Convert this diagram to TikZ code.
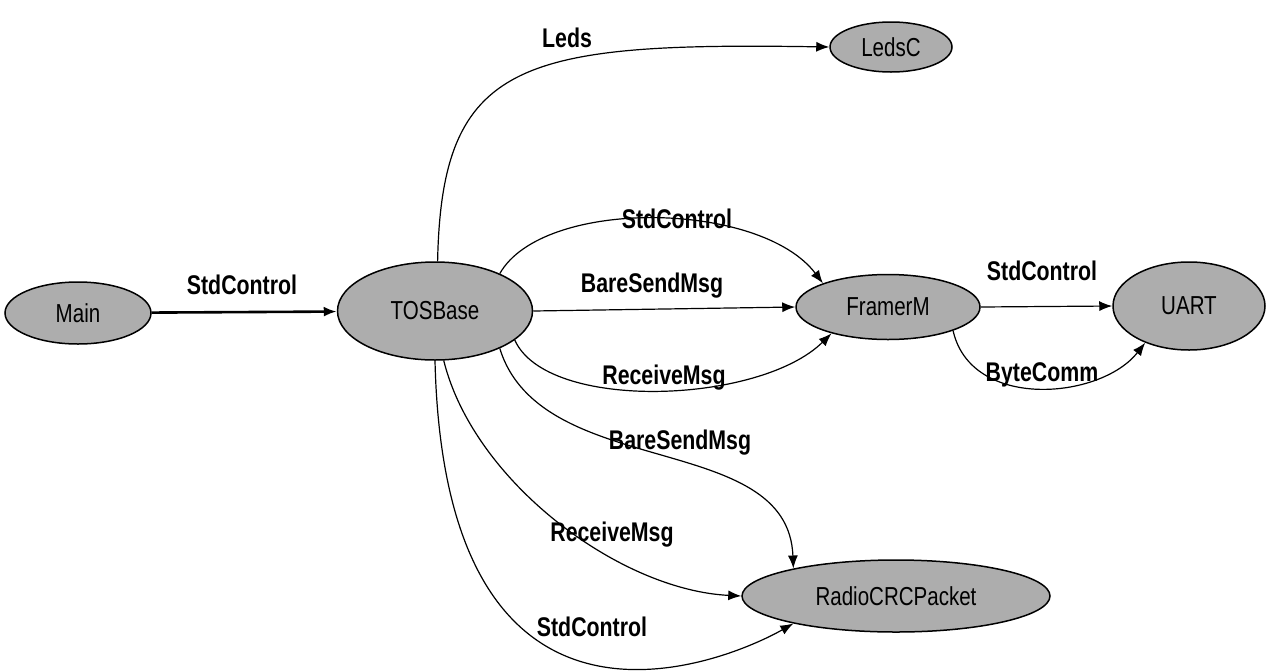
\documentclass[tikz,border=0pt]{standalone}
\usepackage{fontspec}
\newfontfamily\narrowsans{Liberation Sans}[FakeStretch=0.79]
\usetikzlibrary{shapes.geometric,arrows.meta}
\begin{document}
\begin{tikzpicture}[x=1pt,y=-1pt,
  comp/.style={ellipse, draw=black, line width=1.5pt, fill=black!32, inner sep=0pt,
    font=\narrowsans\fontsize{26}{30}\selectfont},
  wire/.style={draw=black, line width=1.2pt, -{Latex[length=13pt,width=10pt]}},
  lbl/.style={font=\narrowsans\bfseries\fontsize{27}{30}\selectfont, inner sep=0pt}]
\useasboundingbox (0,0) rectangle (1269,670);

% components
\node[comp, minimum width=146, minimum height=62] (main)   at (78,313)  {Main};
\node[comp, minimum width=195, minimum height=98] (tos)    at (435,311) {TOSBase};
\node[comp, minimum width=122, minimum height=50] (leds)   at (891,47)  {LedsC};
\node[comp, minimum width=184, minimum height=65] (framer) at (888,307) {FramerM};
\node[comp, minimum width=152, minimum height=88] (uart)   at (1189,306) {UART};
\node[comp, minimum width=308, minimum height=72] (radio)  at (896,596) {RadioCRCPacket};

% wiring
\draw[wire, line width=2.6pt] (main) -- (tos);
\draw[wire] (tos.87) .. controls +(4,-200) and +(-310,-5) .. (leds.west);
\draw[wire] (tos.30) .. controls +(43,-76) and +(-63,-83) .. (framer.160);
\draw[wire] (tos.east) -- (framer.west);
\draw[wire] (tos.-20) .. controls +(32,72) and +(-72,71) .. (framer.205);
\draw[wire] (framer.east) -- (uart.west);
\draw[wire] (framer.-20) .. controls +(18,80) and +(-45,57) .. (uart.220);
\draw[wire] (tos.-30) .. controls +(41,133) and +(-5,-139) .. (radio.165);
\draw[wire] (tos.-80) .. controls +(30,121) and +(-122,-6) .. (radio.west);
\draw[wire] (tos.south) .. controls +(10,421) and +(-65,37) .. (radio.195);

% interface labels
\node[lbl] (l1)  at (242,285)  {StdControl};
\node[lbl] (l2)  at (567,38)   {Leds};
\node[lbl] (l3)  at (677,219)  {StdControl};
\node[lbl] (l4)  at (652,286)  {BareSendMsg};
\node[lbl] (l5)  at (664,378)  {ReceiveMsg};
\node[lbl] (l6)  at (1042,271) {StdControl};
\node[lbl] (l7)  at (1042,375) {ByteComm};
\node[lbl] (l8)  at (680,443)  {BareSendMsg};
\node[lbl] (l9)  at (612,535)  {ReceiveMsg};
\node[lbl] (l10) at (592,627)  {StdControl};
\end{tikzpicture}
\end{document}
